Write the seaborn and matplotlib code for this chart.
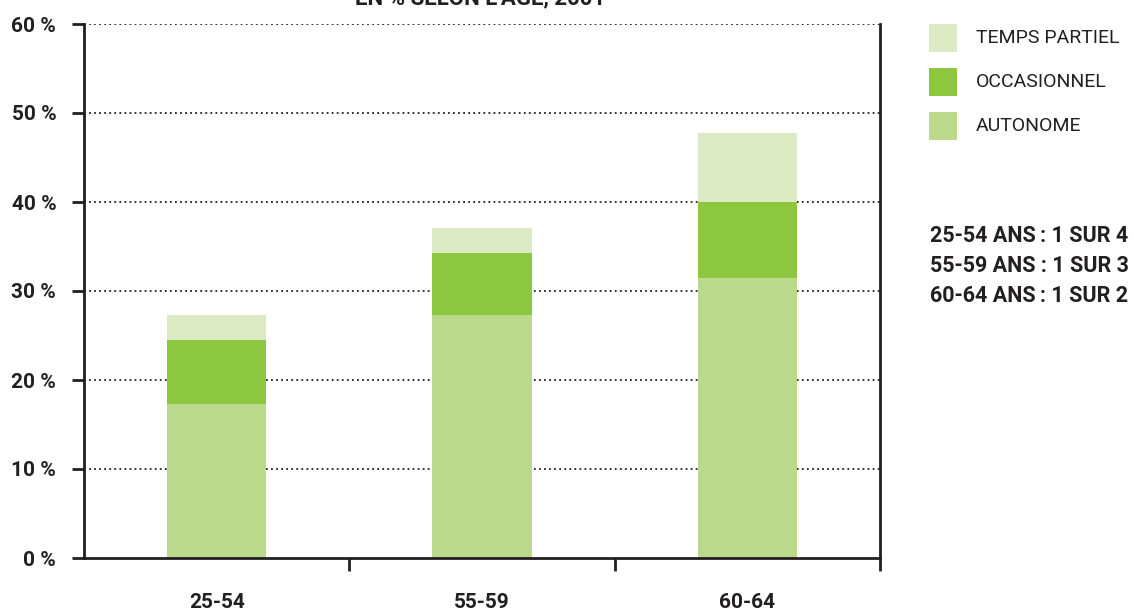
import matplotlib
matplotlib.use("Agg")
import matplotlib.pyplot as plt
import seaborn as sns
import pandas as pd
from matplotlib.patches import Rectangle

categories = ["25-54", "55-59", "60-64"]
autonome = [17.3, 27.3, 31.5]
occasionnel = [7.2, 7.0, 8.5]
temps_partiel = [2.8, 2.8, 7.8]
series_names = ["TEMPS PARTIEL", "OCCASIONNEL", "AUTONOME"]
series_colors = ["#dceac4", "#8dc63f", "#bbd98a"]
yticks = [0, 10, 20, 30, 40, 50, 60]
ytick_labels = ["0 %", "10 %", "20 %", "30 %", "40 %", "50 %", "60 %"]
notes = ["25-54 ANS\u2009: 1 SUR 4", "55-59 ANS : 1 SUR 3", "60-64 ANS\u2009: 1 SUR 2"]
title = "EN % SELON L'ÂGE, 2001"

sns.set_theme(style="white")
plt.rcParams['font.family'] = ['Roboto', 'DejaVu Sans']
DARK = "#231f20"

df = pd.DataFrame({"cat": categories,
                   "a": autonome,
                   "ao": [a + o for a, o in zip(autonome, occasionnel)],
                   "aot": [a + o + t for a, o, t in zip(autonome, occasionnel, temps_partiel)]})

fig = plt.figure(figsize=(11.34, 6.12), dpi=100)
ax = fig.add_axes([84/1134, 1-558/612, (880-84)/1134, (558-24)/612])

for col, color in zip(["aot", "ao", "a"], series_colors):
    sns.barplot(data=df, x="cat", y=col, order=categories, color=color,
                width=0.375, ax=ax, saturation=1, linewidth=0)

ax.set_xlim(-0.5, 2.5)
ax.set_ylim(0, 60)
ax.set_xlabel("")
ax.set_ylabel("")

for y in yticks[1:]:
    ax.axhline(y, color=DARK, lw=1.3, ls=(0, (1, 1.8)), zorder=0.5)

ax.spines["top"].set_visible(False)
for s in ["left", "right", "bottom"]:
    ax.spines[s].set_color(DARK)
    ax.spines[s].set_linewidth(2)

ax.set_yticks(yticks)
ax.set_yticklabels(ytick_labels, fontsize=15, fontweight="bold", color=DARK)
ax.tick_params(axis="y", direction="out", length=9, width=2, color=DARK, pad=11, left=True)
ax.set_xticks([0, 1, 2])
ax.set_xticklabels(categories, fontsize=15, fontweight="bold", color=DARK)
ax.tick_params(axis="x", which="major", length=0, pad=25)
ax.set_xticks([0.5, 1.5, 2.5], minor=True)
ax.tick_params(axis="x", which="minor", direction="out", length=9, width=2, color=DARK, bottom=True)

# legend
for i, (name, color) in enumerate(zip(series_names, series_colors)):
    top = 24 + i * 44
    fig.patches.append(Rectangle((929/1134, 1-(top+28)/612), 28/1134, 28/612,
                                 transform=fig.transFigure, facecolor=color, edgecolor="none"))
    fig.text(976/1134, 1-(top+14)/612, name, fontsize=14, color=DARK, va="center", ha="left")

for i, n in enumerate(notes):
    fig.text(930/1134, 1-(236+i*30)/612, n, fontsize=15.5, fontweight="bold", color=DARK,
             va="center", ha="left")

fig.text(480/1134, 1-4/612, title, fontsize=16, fontweight="bold", color=DARK,
         ha="center", va="baseline")

fig.savefig("out.png", dpi=100)
